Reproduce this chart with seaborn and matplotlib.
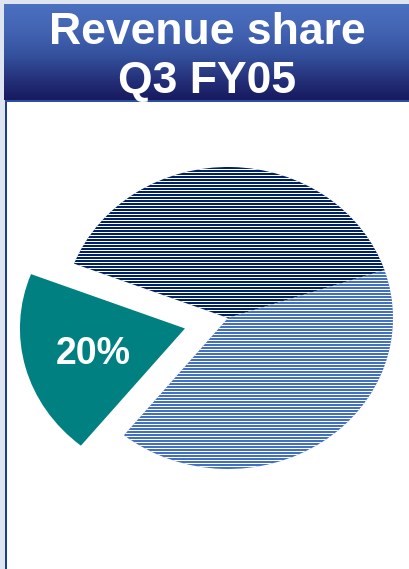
import numpy as np
import matplotlib
matplotlib.use("Agg")
import matplotlib.pyplot as plt
from matplotlib.patches import Rectangle
from matplotlib.colors import LinearSegmentedColormap
import seaborn as sns

# Revenue split for the quarter
segments = ["Segment A", "Segment B", "Segment C"]
shares = [39, 20, 41]
labelled_segment = "Segment B"

title_lines = ["Revenue share", "Q3 FY05"]

DPI = 100
W, H = 409, 569


def pt(px):
    """Convert a pixel size to points at the figure resolution."""
    return px * 72 / DPI


sns.set_theme(style="white")
plt.rcParams["font.family"] = ["Liberation Sans", "DejaVu Sans"]

palette = sns.color_palette(["#002263", "#008080", "#4470c0"])

fig = plt.figure(figsize=(W / DPI, H / DPI), dpi=DPI)
fig.patch.set_facecolor("#dfe4f1")


def fx(px):
    return px / W


def fy(py):
    return 1 - py / H


# white content panel with a navy left rule
fig.add_artist(Rectangle((fx(7), 0), fx(W - 7), fy(101), transform=fig.transFigure,
                         facecolor="white", edgecolor="none", zorder=-5))
fig.add_artist(Rectangle((fx(5), 0), fx(2), fy(100), transform=fig.transFigure,
                         facecolor="#1f3d8f", edgecolor="none", zorder=-4))
fig.add_artist(Rectangle((fx(5), fy(101.5)), fx(W - 5), 1.5 / H, transform=fig.transFigure,
                         facecolor="#2b4ea0", edgecolor="none", zorder=-4))

# pie axes spanning the figure
ax = fig.add_axes([0, 0, 1, 1])
ax.patch.set_alpha(0)
explode = [0.27 if s == labelled_segment else 0 for s in segments]
wedges, texts, autotexts = ax.pie(
    shares,
    explode=explode,
    colors=palette,
    startangle=18.5,
    counterclock=True,
    autopct=lambda p: f"{p:.0f}%",
    pctdistance=0.575,
    wedgeprops=dict(linewidth=0),
    textprops=dict(color="white", fontsize=pt(37.5), fontweight="bold", zorder=5),
)
cx, cy, rx, ry = 228, 318, 165, 151
ax.set_aspect("auto")
ax.set_xlim(-cx / rx, (W - cx) / rx)
ax.set_ylim(-(H - cy) / ry, cy / ry)
ax.axis("off")

# fine horizontal pinstripes: one white pixel row in every three
stripes = np.zeros((H, W, 4))
stripes[1::3, :, :] = 1.0

for seg, w, t in zip(segments, wedges, autotexts):
    if seg == labelled_segment:
        x, y = t.get_position()
        t.set_position((x, y - 3 / ry))
        continue
    t.set_visible(False)
    im = fig.figimage(stripes, xo=0, yo=0, origin="upper", zorder=1)
    im.set_clip_path(w)

# gradient title bar
tax = fig.add_axes([fx(4), fy(100), fx(W - 4), (100 - 4) / H])
cmap = LinearSegmentedColormap.from_list(
    "bar", [(0, "#4b71c0"), (0.3, "#4263b2"), (0.55, "#34509c"), (0.8, "#242f78"), (1, "#171a5e")]
)
grad = np.linspace(0, 1, 256).reshape(-1, 1)
tax.imshow(grad, cmap=cmap, aspect="auto", extent=[0, 1, 0, 1], origin="upper")
tax.axis("off")

fig.text(fx(207), fy(44.5), title_lines[0], ha="center", va="baseline",
         fontsize=pt(44.5), fontweight="bold", color="white")
fig.text(fx(207), fy(93.5), title_lines[1], ha="center", va="baseline",
         fontsize=pt(44.5), fontweight="bold", color="white")

fig.savefig("out.png", dpi=DPI)
